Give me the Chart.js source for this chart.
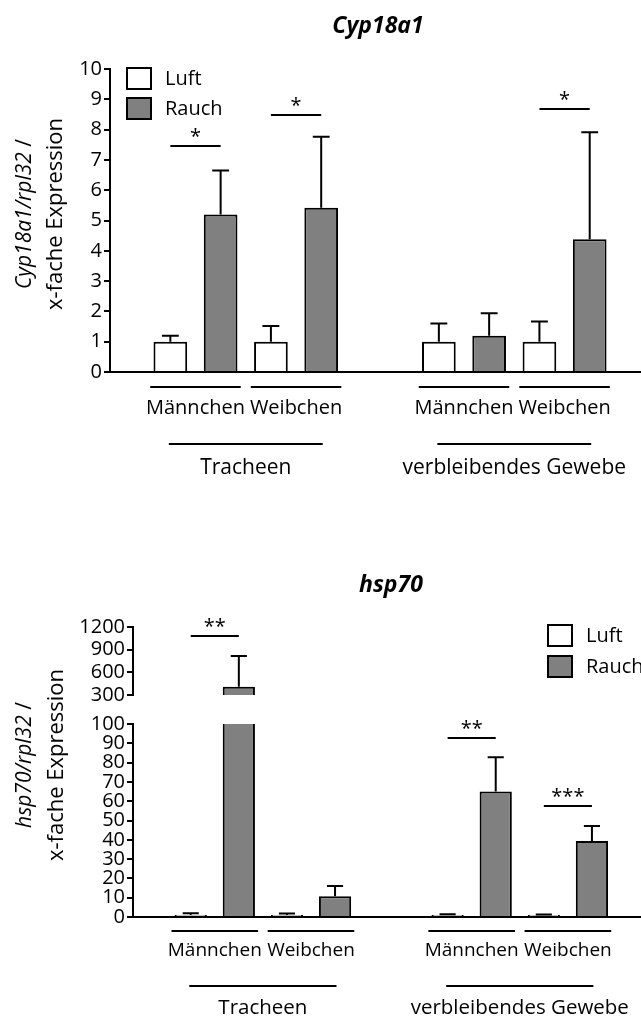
<!DOCTYPE html>
<html>
<head>
<meta charset="utf-8">
<script src="https://cdn.jsdelivr.net/npm/chart.js@4.4.1/dist/chart.umd.min.js"></script>
<style>
  html, body { margin: 0; padding: 0; background: #fff; }
  #wrap { position: relative; width: 641px; height: 1016px; overflow: hidden; }
  #wrap canvas { position: absolute; left: 0; }
</style>
</head>
<body>
<div id="wrap">
  <canvas id="cyp" width="641" height="560" style="top:0"></canvas>
  <canvas id="hspLow" width="641" height="456" style="top:560px"></canvas>
  <canvas id="hspHigh" width="641" height="456" style="top:560px"></canvas>
</div>
<script>
// categories
const tissues = ['Tracheen', 'verbleibendes Gewebe'];
const sexes = ['Männchen', 'Weibchen'];
const series = ['Luft', 'Rauch'];

// Cyp18a1/rpl32, order: Tracheen M, Tracheen W, Gewebe M, Gewebe W
const cypLuft = [1.0, 1.0, 1.0, 1.0];
const cypLuftSd = [0.2, 0.52, 0.6, 0.67];
const cypRauch = [5.2, 5.42, 1.2, 4.38];
const cypRauchSd = [1.45, 2.34, 0.74, 3.53];
const cypSig = ['*', '*', '', '*'];
const cypSigAt = [7.47, 8.47, null, 8.67];
const cypTicks = [0, 1, 2, 3, 4, 5, 6, 7, 8, 9, 10];

// hsp70/rpl32
const hspLuft = [1.0, 1.0, 1.0, 1.0];
const hspLuftSd = [0.9, 0.8, 0.4, 0.3];
const hspRauch = [410, 10.8, 65, 39.4];
const hspRauchSd = [406, 5.2, 17.8, 7.8];
const hspSig = ['**', '', '**', '***'];
const hspSigAt = [1080, null, 93, 57.5];
const hspTicksHigh = [300, 600, 900, 1200];
const hspTicksLow = [0, 10, 20, 30, 40, 50, 60, 70, 80, 90, 100];

const FONT = '"Open Sans", "Noto Sans", sans-serif';
Chart.defaults.font.family = FONT;
Chart.defaults.color = '#000';

// group positions on the x scale, with a wider gap between tissues
const TISSUE_GAP = 0.67;
const groupX = [];
const groupLabels = [];
tissues.forEach((t, ti) => sexes.forEach((s, si) => {
  groupX.push(ti * (sexes.length + TISSUE_GAP) + si);
  groupLabels.push(s);
}));
const tissueX = tissues.map((t, ti) => ti * (sexes.length + TISSUE_GAP) + (sexes.length - 1) / 2);

function makeDatasets(luft, luftSd, rauch, rauchSd) {
  return [
    { label: series[0], data: groupX.map((x, i) => ({ x, y: luft[i] })), sd: luftSd, backgroundColor: '#ffffff' },
    { label: series[1], data: groupX.map((x, i) => ({ x, y: rauch[i] })), sd: rauchSd, backgroundColor: '#808080' },
  ].map(d => Object.assign(d, {
    borderColor: '#000', borderWidth: 2, borderSkipped: 'start',
    categoryPercentage: 1.0, barPercentage: 0.67, clip: 0,
  }));
}

function xScale(show, pad, height, size) {
  return {
    type: 'linear', min: -0.85, max: 4.43, bounds: 'data', offset: false, display: show, z: 1,
    afterBuildTicks: s => { s.ticks = groupX.map(v => ({ value: v })); },
    afterFit: s => { if (show) s.height = height; },
    grid: { display: false, drawTicks: false, offset: false },
    border: { display: true, color: '#000', width: 2 },
    ticks: {
      autoSkip: false, maxRotation: 0, minRotation: 0, padding: pad,
      font: { size: size }, callback: (v, i) => groupLabels[i],
    },
  };
}

function yScale(ticks, axisX) {
  return {
    min: ticks[0], max: ticks[ticks.length - 1], bounds: 'data',
    afterBuildTicks: s => { s.ticks = ticks.map(v => ({ value: v })); },
    afterFit: s => { s.width = axisX; },
    grid: { display: true, drawOnChartArea: false, drawTicks: true, tickLength: 6, color: '#000', lineWidth: 2 },
    border: { display: true, color: '#000', width: 2 },
    ticks: { autoSkip: false, padding: 2, font: { size: 20 }, callback: v => String(v) },
  };
}

function richLine(ctx, parts, cx, cy) {
  let total = 0;
  parts.forEach(p => { ctx.font = p[1]; total += ctx.measureText(p[0]).width; });
  let x = cx - total / 2;
  ctx.textAlign = 'left';
  parts.forEach(p => { ctx.font = p[1]; ctx.fillText(p[0], x, cy); x += ctx.measureText(p[0]).width; });
}

const figureDecor = {
  id: 'figureDecor',
  afterDatasetsDraw(chart, args, o) {
    const { ctx, chartArea: a, scales: { y } } = chart;
    ctx.save();
    ctx.strokeStyle = '#000';
    ctx.fillStyle = '#000';
    ctx.lineWidth = 2;

    // error bars (upper half only)
    ctx.save();
    ctx.beginPath();
    ctx.rect(a.left, a.top, a.right - a.left, a.bottom - a.top);
    ctx.clip();
    ctx.beginPath();
    chart.data.datasets.forEach((ds, di) => {
      chart.getDatasetMeta(di).data.forEach((bar, i) => {
        const top = y.getPixelForValue(ds.data[i].y + ds.sd[i]);
        const cap = bar.width / 4;
        ctx.moveTo(bar.x, bar.y);
        ctx.lineTo(bar.x, top);
        ctx.moveTo(bar.x - cap, top);
        ctx.lineTo(bar.x + cap, top);
      });
    });
    ctx.stroke();
    ctx.restore();

    // significance
    const m0 = chart.getDatasetMeta(0), m1 = chart.getDatasetMeta(1);
    ctx.font = '20px ' + FONT;
    ctx.textAlign = 'center';
    ctx.textBaseline = 'alphabetic';
    o.sig.forEach((txt, i) => {
      const v = o.sigAt[i];
      if (!txt || v == null || v < y.min || v > y.max) return;
      const py = Math.round(y.getPixelForValue(v));
      const x0 = m0.data[i].x, x1 = m1.data[i].x;
      ctx.beginPath();
      ctx.moveTo(x0, py);
      ctx.lineTo(x1, py);
      ctx.stroke();
      ctx.fillText(txt, (x0 + x1) / 2, py - 3.5);
    });
    ctx.restore();
  },
  afterDraw(chart, args, o) {
    const { ctx, chartArea: a, scales: { x } } = chart;
    ctx.save();
    ctx.strokeStyle = '#000';
    ctx.fillStyle = '#000';
    ctx.lineWidth = 2;

    if (o.xDecor) {
      const d = o.xDecor;
      ctx.beginPath();
      groupX.forEach(g => {
        ctx.moveTo(x.getPixelForValue(g - 0.45), a.bottom + d.under);
        ctx.lineTo(x.getPixelForValue(g + 0.45), a.bottom + d.under);
      });
      tissueX.forEach(t => {
        ctx.moveTo(x.getPixelForValue(t - 0.765), a.bottom + d.line);
        ctx.lineTo(x.getPixelForValue(t + 0.765), a.bottom + d.line);
      });
      ctx.stroke();
      ctx.font = d.size + 'px ' + FONT;
      ctx.textAlign = 'center';
      ctx.textBaseline = 'middle';
      tissues.forEach((t, i) => ctx.fillText(t, x.getPixelForValue(tissueX[i]), a.bottom + d.label));
    }

    if (o.legend) {
      const L = o.legend;
      ctx.font = '20px ' + FONT;
      ctx.textAlign = 'left';
      ctx.textBaseline = 'middle';
      chart.data.datasets.forEach((ds, di) => {
        const by = L.y + di * L.step;
        ctx.fillStyle = ds.backgroundColor;
        ctx.fillRect(L.x, by, 24, 21);
        ctx.strokeRect(L.x, by, 24, 21);
        ctx.fillStyle = '#000';
        ctx.fillText(ds.label, L.x + 38, by + 11);
      });
    }

    if (o.title) {
      ctx.font = 'italic bold 23px ' + FONT;
      ctx.textAlign = 'center';
      ctx.textBaseline = 'alphabetic';
      ctx.fillText(o.title.text, o.title.x, o.title.y);
    }

    if (o.yTitle) {
      const t = o.yTitle;
      ctx.textBaseline = 'middle';
      ctx.save();
      ctx.translate(t.x1, t.y);
      ctx.rotate(-Math.PI / 2);
      richLine(ctx, [[t.lead, 'italic 21px ' + FONT], [' /', '21px ' + FONT]], 0, 0);
      ctx.restore();
      ctx.save();
      ctx.translate(t.x2, t.y);
      ctx.rotate(-Math.PI / 2);
      ctx.font = '22px ' + FONT;
      ctx.textAlign = 'center';
      ctx.fillText('x-fache Expression', 0, 0);
      ctx.restore();
    }
    ctx.restore();
  },
};

const base = { responsive: false, animation: false, events: [] };

new Chart(document.getElementById('cyp'), {
  type: 'bar',
  data: { datasets: makeDatasets(cypLuft, cypLuftSd, cypRauch, cypRauchSd) },
  options: Object.assign({}, base, {
    layout: { padding: { top: 69, right: 0, bottom: 0, left: 0 } },
    scales: { x: xScale(true, 24, 188, 20), y: yScale(cypTicks, 110) },
    plugins: {
      legend: { display: false }, tooltip: { enabled: false },
      figureDecor: {
        sig: cypSig, sigAt: cypSigAt,
        xDecor: { under: 15, line: 72, label: 96, size: 21 },
        legend: { x: 127, y: 68, step: 30 },
        title: { text: 'Cyp18a1', x: 378, y: 33 },
        yTitle: { lead: 'Cyp18a1/rpl32', x1: 25, x2: 56, y: 214 },
      },
    },
  }),
  plugins: [figureDecor],
});

new Chart(document.getElementById('hspLow'), {
  type: 'bar',
  data: { datasets: makeDatasets(hspLuft, hspLuftSd, hspRauch, hspRauchSd) },
  options: Object.assign({}, base, {
    layout: { padding: { top: 164, right: 0, bottom: 0, left: 0 } },
    scales: { x: xScale(true, 22, 99, 19), y: yScale(hspTicksLow, 133) },
    plugins: {
      legend: { display: false }, tooltip: { enabled: false },
      figureDecor: {
        sig: hspSig, sigAt: hspSigAt,
        xDecor: { under: 14, line: 69, label: 91, size: 20.5 },
        title: { text: 'hsp70', x: 391, y: 32 },
        yTitle: { lead: 'hsp70/rpl32', x1: 25, x2: 57, y: 205 },
      },
    },
  }),
  plugins: [figureDecor],
});

new Chart(document.getElementById('hspHigh'), {
  type: 'bar',
  data: { datasets: makeDatasets(hspLuft, hspLuftSd, hspRauch, hspRauchSd) },
  options: Object.assign({}, base, {
    layout: { padding: { top: 67, right: 0, bottom: 321, left: 0 } },
    scales: { x: xScale(false, 0, 0, 19), y: yScale(hspTicksHigh, 133) },
    plugins: {
      legend: { display: false }, tooltip: { enabled: false },
      figureDecor: {
        sig: hspSig, sigAt: hspSigAt,
        legend: { x: 548, y: 65, step: 31 },
      },
    },
  }),
  plugins: [figureDecor],
});
</script>
</body>
</html>
